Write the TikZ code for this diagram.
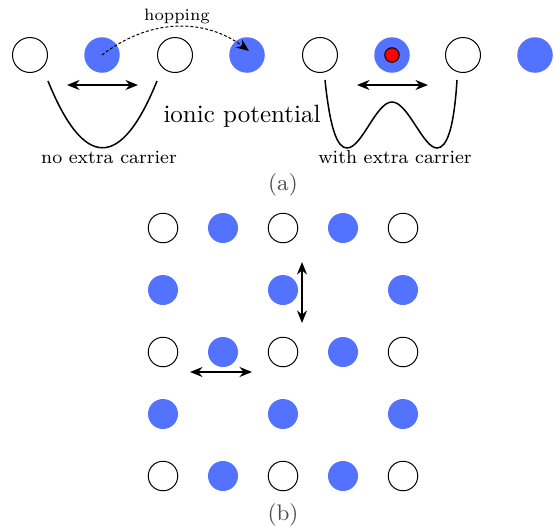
\documentclass[tikz,border=0pt]{standalone}
\usetikzlibrary{positioning, arrows.meta}
\definecolor{ionblue}{RGB}{82,114,255}

\begin{document}
\begin{tikzpicture}[x=0.4pt, y=-0.4pt,
    % Styles
    site/.style={circle, draw, line width=0.4pt, inner sep=0pt, minimum size=14pt},
    ion/.style={circle, fill=ionblue, inner sep=0pt, minimum size=14.2pt},
    gsite/.style={site, minimum size=11.8pt},
    gion/.style={ion, minimum size=12pt},
    carrier/.style={circle, draw, fill=red, line width=0.4pt, inner sep=0pt, minimum size=5.8pt},
    move-arrow/.style={{Stealth[length=5pt,width=4pt]}-{Stealth[length=5pt,width=4pt]}, line width=0.7pt},
    hop-arrow/.style={-{Stealth[length=5pt,width=4pt]}, dashed, dash pattern={on 1.2pt off 0.8pt}, line width=0.4pt},
    well/.style={line width=0.6pt},
    wlabel/.style={font=\fontsize{7.5}{9}\selectfont},
    subcap/.style={font=\small, text=black!70},
]
\useasboundingbox (0,0) rectangle (554,527);

% (a) ion chain
\node[site] (a1) at (30,55) {};
\node[ion] (a2) at (102,55) {};
\node[site] (a3) at (175,55) {};
\node[ion] (a4) at (247,55) {};
\node[site] (a5) at (320,55) {};
\node[ion] (a6) at (392,55) {};
\node[carrier] (el) at (392,55) {};
\node[site] (a7) at (463,55) {};
\node[ion] (a8) at (535,55) {};

% hopping
\coordinate (hopend) at (249,51);
\draw[hop-arrow] (a2.center) .. controls (150,18) and (205,18) .. (hopend);
\node[font=\fontsize{6.6}{8}\selectfont] (hop) at (177,16) {hopping};

% oscillations
\coordinate (la) at (67,85);
\coordinate (lb) at (138,85);
\draw[move-arrow] (la) -- (lb);
\coordinate (ra) at (357,85);
\coordinate (rb) at (428,85);
\draw[move-arrow] (ra) -- (rb);

% potentials
\draw[well] (48,81) .. controls (84,170) and (121,170) .. (157,81);
\draw[well] (325,80) .. controls (330,128) and (337,148) .. (347,148)
    .. controls (362,148) and (376,102) .. (392,102)
    .. controls (408,102) and (423,148) .. (437,148)
    .. controls (447,148) and (454,128) .. (457,80);

\node (pot) at (242,116) {ionic potential};
\node[wlabel] (noextra) at (109,157) {no extra carrier};
\node[wlabel] (withextra) at (395,157) {with extra carrier};
\node[subcap] (capa) at (283,185) {(a)};

% (b) square lattice
\foreach \r/\y in {1/228,3/352,5/476} {
    \foreach \c/\x in {1/163,3/283,5/403} \node[gsite] (g\r\c) at (\x,\y) {};
    \foreach \c/\x in {2/223,4/343} \node[gion] (g\r\c) at (\x,\y) {};
}
\foreach \r/\y in {2/290,4/414}
    \foreach \c/\x in {1/163,3/283,5/403} \node[gion] (g\r\c) at (\x,\y) {};

\coordinate (vtop) at (302,262);
\coordinate (vbot) at (302,323);
\draw[move-arrow] (vtop) -- (vbot);
\coordinate (hleft) at (190,372);
\coordinate (hright) at (252,372);
\draw[move-arrow] (hleft) -- (hright);

\node[subcap] (capb) at (283,515) {(b)};

\end{tikzpicture}
\end{document}
